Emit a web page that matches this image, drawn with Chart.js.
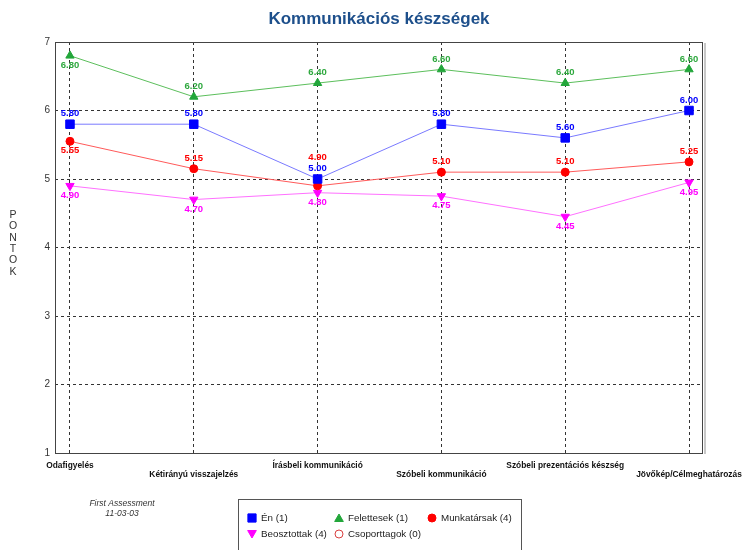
<!DOCTYPE html>
<html>
<head>
<meta charset="utf-8">
<script src="https://cdn.jsdelivr.net/npm/chart.js@4/dist/chart.umd.min.js"></script>
<style>
  html, body { margin: 0; padding: 0; background: #ffffff; }
  #wrap { width: 744px; height: 550px; }
</style>
</head>
<body>
<div id="wrap"><canvas id="c" width="744" height="550"></canvas></div>
<script>
const categories = ['Odafigyelés', 'Kétirányú visszajelzés', 'Írásbeli kommunikáció', 'Szóbeli kommunikáció', 'Szóbeli prezentációs készség', 'Jövőkép/Célmeghatározás'];
const yTicks = [1, 2, 3, 4, 5, 6, 7];
const enValues = [5.80, 5.80, 5.00, 5.80, 5.60, 6.00];
const felettesekValues = [6.80, 6.20, 6.40, 6.60, 6.40, 6.60];
const munkatarsakValues = [5.55, 5.15, 4.90, 5.10, 5.10, 5.25];
const beosztottakValues = [4.90, 4.70, 4.80, 4.75, 4.45, 4.95];
const csoporttagokValues = [];
const seriesNames = ['Én (1)', 'Felettesek (1)', 'Munkatársak (4)', 'Beosztottak (4)', 'Csoporttagok (0)'];
const titleText = 'Kommunikációs készségek';
const yAxisTitle = 'PONTOK';
const footLines = ['First Assessment', '11-03-03'];

function pts(vals) { return vals.map((v, i) => ({ x: i, y: v })); }

const datasets = [
  { label: seriesNames[0], data: pts(enValues), borderColor: '#7a7aff', backgroundColor: '#0000ff',
    pointBackgroundColor: '#0000ff', pointBorderColor: '#0000ff', pointStyle: 'rect', pointRadius: 6,
    labelColor: '#0000ff', labelShift: [-10.5, -10.5, -10.5, -10.5, -10.5, -10.5] },
  { label: seriesNames[1], data: pts(felettesekValues), borderColor: '#5cbf5c', backgroundColor: '#22a63a',
    pointBackgroundColor: '#22a63a', pointBorderColor: '#22a63a', pointStyle: 'triangle', pointRadius: 4.8,
    labelColor: '#2ea83e', labelShift: [9.5, -10.5, -10.5, -10.5, -10.5, -10.5] },
  { label: seriesNames[2], data: pts(munkatarsakValues), borderColor: '#ff5a5a', backgroundColor: '#ff0000',
    pointBackgroundColor: '#ff0000', pointBorderColor: '#ff0000', pointStyle: 'circle', pointRadius: 4,
    labelColor: '#ff0000', labelShift: [9, -10.5, -28, -10.5, -10.5, -10.5] },
  { label: seriesNames[3], data: pts(beosztottakValues), borderColor: '#ff70ff', backgroundColor: '#ff00ff',
    pointBackgroundColor: '#ff00ff', pointBorderColor: '#ff00ff', pointStyle: 'triangle', pointRotation: 180, pointRadius: 4.8,
    labelColor: '#ff00ff', labelShift: [9.5, 9.5, 9.5, 9.5, 9.5, 9.5] },
  { label: seriesNames[4], data: pts(csoporttagokValues), borderColor: '#d94040', backgroundColor: 'rgba(0,0,0,0)',
    pointBackgroundColor: 'rgba(0,0,0,0)', pointBorderColor: '#d94040', pointStyle: 'circle', pointRadius: 4,
    labelColor: '#d94040', labelShift: [], hollow: true }
];
datasets.forEach(d => { d.borderWidth = 1; d.tension = 0; d.pointBorderWidth = 1; d.fill = false; });

const AREA = { left: 55, right: 703, top: 42, bottom: 453 };
const FONT = '"Liberation Sans", Arial, sans-serif';

const decorPlugin = {
  id: 'decor',
  beforeDraw(chart) {
    const ctx = chart.ctx;
    ctx.save();
    ctx.fillStyle = '#ffffff';
    ctx.fillRect(0, 0, chart.width, chart.height);
    ctx.restore();
  },
  beforeDatasetsDraw(chart) {
    const ctx = chart.ctx, a = chart.chartArea;
    ctx.save();
    ctx.strokeStyle = '#c8c8c8';
    ctx.lineWidth = 2;
    ctx.beginPath();
    ctx.moveTo(a.right + 2, a.top + 1);
    ctx.lineTo(a.right + 2, a.bottom + 1);
    ctx.stroke();
    ctx.strokeStyle = '#444444';
    ctx.lineWidth = 1;
    ctx.strokeRect(Math.round(a.left) + 0.5, Math.round(a.top) + 0.5, Math.round(a.right - a.left) - 1, Math.round(a.bottom - a.top));
    ctx.restore();
  },
  afterDatasetsDraw(chart) {
    const ctx = chart.ctx;
    ctx.save();
    ctx.font = 'bold 9.5px ' + FONT;
    ctx.textAlign = 'center';
    ctx.textBaseline = 'middle';
    chart.data.datasets.forEach((ds, di) => {
      const meta = chart.getDatasetMeta(di);
      ctx.fillStyle = ds.labelColor;
      meta.data.forEach((el, i) => {
        const v = ds.data[i].y;
        ctx.fillText(v.toFixed(2), el.x, el.y + (ds.labelShift[i] || 0));
      });
    });
    ctx.restore();
  },
  afterDraw(chart) {
    const ctx = chart.ctx;
    ctx.save();
    ctx.fillStyle = '#1d4f8b';
    ctx.font = 'bold 17px ' + FONT;
    ctx.textAlign = 'center';
    ctx.textBaseline = 'middle';
    ctx.fillText(titleText, 379, 19);
    ctx.fillStyle = '#333333';
    ctx.font = '10.5px ' + FONT;
    yAxisTitle.split('').forEach((ch, i) => ctx.fillText(ch, 13, 215 + i * 11.4));
    ctx.font = 'italic 8.5px ' + FONT;
    ctx.fillStyle = '#333333';
    footLines.forEach((t, i) => ctx.fillText(t, 122, 504 + i * 9.5));
    ctx.strokeStyle = '#555555';
    ctx.lineWidth = 1;
    ctx.strokeRect(238.5, 499.5, 283, 70);
    const cols = [252, 339, 432];
    const rows = [518, 534];
    ctx.font = '9.8px ' + FONT;
    ctx.textAlign = 'left';
    chart.data.datasets.forEach((ds, i) => {
      const cx = cols[i % 3], cy = rows[Math.floor(i / 3)];
      const r = ds.pointStyle === 'rect' ? 5.8 : (ds.pointStyle === 'triangle' ? 5 : 4);
      ctx.fillStyle = ds.pointBackgroundColor;
      ctx.strokeStyle = ds.pointBorderColor;
      ctx.lineWidth = 1;
      ctx.beginPath();
      if (ds.pointStyle === 'circle') {
        ctx.arc(cx, cy, r, 0, Math.PI * 2);
      } else if (ds.pointStyle === 'rect') {
        const s = r * Math.SQRT1_2;
        ctx.rect(cx - s, cy - s, 2 * s, 2 * s);
      } else {
        const rot = (ds.pointRotation || 0) * Math.PI / 180;
        for (let k = 0; k < 3; k++) {
          const ang = rot + k * 2 * Math.PI / 3;
          const px = cx + Math.sin(ang) * r, py = cy - Math.cos(ang) * r + (rot ? -1 : 1);
          if (k === 0) ctx.moveTo(px, py); else ctx.lineTo(px, py);
        }
        ctx.closePath();
      }
      if (!ds.hollow) ctx.fill();
      ctx.stroke();
      ctx.fillStyle = '#222222';
      ctx.textBaseline = 'middle';
      ctx.fillText(ds.label, cx + 9, cy);
    });
    ctx.restore();
  }
};

new Chart(document.getElementById('c'), {
  type: 'line',
  data: { datasets },
  plugins: [decorPlugin],
  options: {
    responsive: false,
    animation: false,
    devicePixelRatio: 1,
    layout: { padding: { top: AREA.top, left: 0, right: 744 - AREA.right, bottom: 0 } },
    plugins: { legend: { display: false }, title: { display: false }, tooltip: { enabled: false } },
    scales: {
      x: {
        type: 'linear',
        min: -0.121,
        max: 5.113,
        afterBuildTicks(axis) { axis.ticks = categories.map((_, i) => ({ value: i })); },
        afterFit(scale) { scale.height = 550 - AREA.bottom; scale.paddingLeft = 0; scale.paddingRight = 0; },
        grid: { color: '#333333', lineWidth: 1, drawTicks: false },
        border: { display: false, dash: [3, 3] },
        ticks: {
          autoSkip: false, maxRotation: 0, minRotation: 0, padding: 8,
          color: '#111111',
          font: { family: FONT, size: 8.4, weight: 'bold', lineHeight: 1.1 },
          callback(value) {
            const i = Math.round(value);
            const lab = categories[i];
            return i % 2 === 0 ? [lab, ''] : ['', lab];
          }
        }
      },
      y: {
        min: 1,
        max: 7,
        afterBuildTicks(axis) { axis.ticks = yTicks.map(v => ({ value: v })); },
        afterFit(scale) { scale.width = AREA.left; scale.paddingTop = 0; scale.paddingBottom = 0; },
        grid: { color: '#333333', lineWidth: 1, drawTicks: false },
        border: { display: false, dash: [3, 3] },
        ticks: {
          padding: 5, color: '#333333',
          font: { family: FONT, size: 10 }
        }
      }
    }
  }
});
</script>
</body>
</html>
